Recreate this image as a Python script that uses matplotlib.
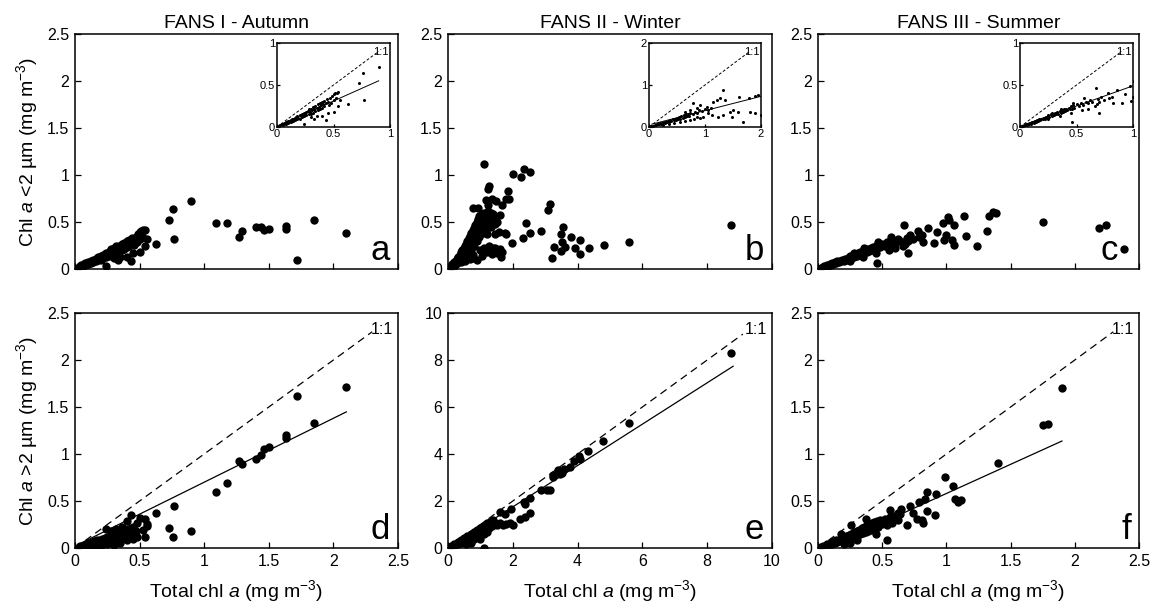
import numpy as np
import matplotlib
matplotlib.use('Agg')
import matplotlib.pyplot as plt
from matplotlib.ticker import FormatStrFormatter, MultipleLocator

plt.rcParams['font.family'] = ['Liberation Sans', 'DejaVu Sans']
plt.rcParams['mathtext.fontset'] = 'custom'
plt.rcParams['mathtext.rm'] = 'Liberation Sans'
plt.rcParams['mathtext.it'] = 'Liberation Sans:italic'

# ---- FANS I (autumn): total chl vs chl <2 um (top) ----
a_x = [0.02, 0.03, 0.04, 0.05, 0.05, 0.06, 0.07, 0.08, 0.08, 0.09, 0.10, 0.10, 0.11, 0.12, 0.12,
       0.13, 0.14, 0.14, 0.15, 0.16, 0.16, 0.17, 0.18, 0.18, 0.19, 0.20, 0.20, 0.21, 0.22, 0.22,
       0.23, 0.24, 0.24, 0.25, 0.26, 0.26, 0.27, 0.28, 0.28, 0.29, 0.30, 0.30, 0.31, 0.32, 0.32,
       0.33, 0.34, 0.34, 0.35, 0.36, 0.36, 0.37, 0.38, 0.38, 0.39, 0.40, 0.40, 0.41, 0.42, 0.42,
       0.43, 0.44, 0.45, 0.46, 0.47, 0.48, 0.49, 0.50, 0.51, 0.52, 0.53, 0.35, 0.33, 0.30,
       0.24, 0.43, 0.40, 0.45, 0.50, 0.54, 0.56, 0.54, 0.50, 0.63, 0.73, 0.76, 0.77, 0.90,
       1.09, 1.18, 1.27, 1.29, 1.40, 1.44, 1.46, 1.50, 1.63, 1.63, 1.72, 1.85, 2.10]
a_y = [0.01, 0.02, 0.03, 0.02, 0.04, 0.03, 0.05, 0.04, 0.06, 0.05, 0.07, 0.05, 0.06, 0.08, 0.06,
       0.09, 0.07, 0.10, 0.09, 0.11, 0.08, 0.12, 0.10, 0.13, 0.11, 0.14, 0.10, 0.13, 0.15, 0.12,
       0.16, 0.13, 0.17, 0.15, 0.18, 0.14, 0.19, 0.16, 0.21, 0.18, 0.22, 0.15, 0.20, 0.24, 0.17,
       0.21, 0.25, 0.19, 0.23, 0.27, 0.20, 0.24, 0.28, 0.21, 0.26, 0.30, 0.23, 0.27, 0.31, 0.25,
       0.28, 0.33, 0.30, 0.26, 0.34, 0.29, 0.37, 0.32, 0.40, 0.35, 0.41, 0.13, 0.10, 0.12,
       0.03, 0.08, 0.13, 0.17, 0.18, 0.25, 0.32, 0.42, 0.39, 0.27, 0.52, 0.64, 0.32, 0.72,
       0.49, 0.49, 0.34, 0.40, 0.45, 0.45, 0.41, 0.43, 0.46, 0.43, 0.10, 0.52, 0.38]

# ---- FANS I: total chl vs chl >2 um (bottom) ----
d_x = [0.03, 0.04, 0.05, 0.06, 0.07, 0.08, 0.09, 0.10, 0.11, 0.12, 0.13, 0.14, 0.15, 0.16, 0.17,
       0.18, 0.19, 0.20, 0.21, 0.22, 0.23, 0.24, 0.25, 0.26, 0.27, 0.28, 0.29, 0.30, 0.31, 0.32,
       0.33, 0.34, 0.35, 0.36, 0.37, 0.38, 0.39, 0.40, 0.41, 0.42, 0.43, 0.44, 0.45, 0.46, 0.47,
       0.48, 0.30, 0.25, 0.35, 0.20, 0.15, 0.40, 0.45, 0.28, 0.32, 0.36, 0.17, 0.24,
       0.40, 0.43, 0.47, 0.48, 0.50, 0.53, 0.54, 0.54, 0.56, 0.56, 0.63, 0.73, 0.76, 0.77, 0.90,
       1.09, 1.18, 1.27, 1.29, 1.40, 1.44, 1.46, 1.50, 1.63, 1.63, 1.72, 1.85, 2.10]
d_y = [0.01, 0.02, 0.01, 0.02, 0.03, 0.02, 0.04, 0.03, 0.05, 0.03, 0.06, 0.04, 0.07, 0.05, 0.08,
       0.05, 0.09, 0.06, 0.10, 0.07, 0.11, 0.07, 0.12, 0.08, 0.13, 0.09, 0.14, 0.09, 0.15, 0.10,
       0.16, 0.11, 0.17, 0.12, 0.18, 0.13, 0.19, 0.14, 0.20, 0.15, 0.21, 0.16, 0.22, 0.13, 0.18,
       0.12, 0.03, 0.04, 0.05, 0.02, 0.01, 0.08, 0.10, 0.18, 0.20, 0.22, 0.01, 0.20,
       0.29, 0.35, 0.13, 0.27, 0.32, 0.19, 0.31, 0.12, 0.26, 0.23, 0.37, 0.21, 0.12, 0.45, 0.18,
       0.60, 0.69, 0.93, 0.89, 0.95, 0.99, 1.05, 1.07, 1.20, 1.17, 1.62, 1.33, 1.71]

# ---- FANS II (winter): top ----
b_x = [0.01, 0.02, 0.03, 0.03, 0.04, 0.05, 0.05, 0.06, 0.06, 0.07, 0.07, 0.08, 0.08, 0.09, 0.09,
       0.10, 0.10, 0.10, 0.11, 0.11, 0.12, 0.12, 0.12, 0.13, 0.13, 0.14, 0.14, 0.14, 0.15, 0.15,
       0.16, 0.16, 0.16, 0.17, 0.17, 0.18, 0.18, 0.18, 0.19, 0.19, 0.20, 0.20, 0.20, 0.21, 0.21,
       0.22, 0.22, 0.22, 0.23, 0.23, 0.24, 0.24, 0.24, 0.25, 0.25, 0.26, 0.26, 0.27, 0.27, 0.28,
       0.28, 0.29, 0.29, 0.30, 0.30, 0.31, 0.31, 0.32, 0.33, 0.33, 0.34, 0.35, 0.36, 0.37, 0.38,
       0.25, 0.28, 0.30, 0.32, 0.34, 0.36, 0.38, 0.40, 0.42, 0.22, 0.26, 0.19, 0.13, 0.17,
       0.19, 0.23, 0.28, 0.32, 0.31, 0.46, 0.45, 0.47, 0.42, 0.37, 0.34, 0.29, 0.31, 0.40,
       0.50, 0.56, 0.59, 0.63, 0.77, 0.79, 0.60, 0.72, 0.63, 0.58, 0.44, 0.45, 0.39, 0.36,
       0.30, 0.49, 0.41, 0.34, 0.35, 0.19, 0.80, 0.82, 0.88, 0.89, 0.87, 0.90, 0.87, 0.95,
       0.98, 1.02, 1.02, 1.09, 1.20, 1.40, 2.18]
b_y = [0.01, 0.03, 0.02, 0.05, 0.04, 0.07, 0.03, 0.09, 0.05, 0.11, 0.06, 0.13, 0.08, 0.15, 0.10,
       0.18, 0.12, 0.07, 0.20, 0.14, 0.22, 0.16, 0.10, 0.25, 0.18, 0.27, 0.20, 0.12, 0.30, 0.23,
       0.33, 0.25, 0.17, 0.35, 0.27, 0.38, 0.30, 0.20, 0.41, 0.33, 0.44, 0.36, 0.25, 0.47, 0.39,
       0.50, 0.42, 0.30, 0.53, 0.45, 0.56, 0.47, 0.34, 0.52, 0.40, 0.58, 0.45, 0.55, 0.38, 0.60,
       0.48, 0.52, 0.42, 0.57, 0.46, 0.62, 0.50, 0.55, 0.60, 0.45, 0.52, 0.58, 0.48, 0.55, 0.50,
       0.20, 0.22, 0.18, 0.25, 0.20, 0.22, 0.17, 0.21, 0.18, 0.10, 0.14, 0.15, 0.08, 0.11,
       0.65, 0.65, 1.12, 0.88, 0.85, 0.83, 0.75, 0.74, 0.68, 0.72, 0.74, 0.73, 0.68, 0.57,
       1.01, 0.98, 1.06, 1.03, 0.63, 0.69, 0.49, 0.40, 0.38, 0.33, 0.38, 0.37, 0.39, 0.37,
       0.37, 0.28, 0.13, 0.16, 0.22, 0.12, 0.12, 0.23, 0.29, 0.45, 0.37, 0.23, 0.19, 0.34,
       0.22, 0.31, 0.16, 0.22, 0.26, 0.29, 0.47]

# FANS II inset (0-2 range)
bi_x = [0.02, 0.04, 0.06, 0.08, 0.10, 0.12, 0.14, 0.16, 0.18, 0.20, 0.22, 0.24, 0.26, 0.28, 0.30,
        0.32, 0.34, 0.36, 0.38, 0.40, 0.42, 0.44, 0.46, 0.48, 0.50, 0.52, 0.54, 0.56, 0.58, 0.60,
        0.62, 0.64, 0.66, 0.68, 0.70, 0.72, 0.74, 0.78, 0.82, 0.86, 0.90, 0.95, 1.00, 1.05, 1.10,
        0.55, 0.65, 0.45, 0.35, 0.25, 0.80, 0.85,
        1.61, 1.79, 1.89, 1.95, 1.32, 1.14, 1.21, 1.27, 1.36, 0.91, 0.86, 1.04, 1.05, 1.13,
        1.23, 1.32, 1.45, 1.50, 1.48, 1.59, 1.68, 1.80, 1.89, 2.00, 0.96, 0.91, 0.73, 0.64,
        0.73, 0.79]
bi_y = [0.01, 0.02, 0.03, 0.03, 0.05, 0.04, 0.06, 0.07, 0.06, 0.09, 0.08, 0.10, 0.12, 0.09, 0.13,
        0.11, 0.15, 0.13, 0.17, 0.14, 0.18, 0.16, 0.20, 0.17, 0.22, 0.19, 0.24, 0.20, 0.26, 0.22,
        0.28, 0.24, 0.30, 0.26, 0.31, 0.27, 0.33, 0.30, 0.36, 0.33, 0.40, 0.37, 0.42, 0.40, 0.45,
        0.12, 0.15, 0.10, 0.08, 0.05, 0.20, 0.25,
        0.71, 0.69, 0.74, 0.76, 0.88, 0.60, 0.64, 0.69, 0.64, 0.52, 0.45, 0.48, 0.33, 0.29,
        0.24, 0.29, 0.36, 0.40, 0.24, 0.36, 0.12, 0.36, 0.33, 0.29, 0.24, 0.21, 0.17, 0.36,
        0.40, 0.57]

# ---- FANS II: bottom ----
e_x = [0.05, 0.10, 0.15, 0.20, 0.25, 0.30, 0.35, 0.40, 0.45, 0.50, 0.55, 0.60, 0.65, 0.70, 0.75,
       0.80, 0.85, 0.90, 0.95, 1.00, 1.05, 1.10, 1.15, 1.20, 1.25, 1.30, 1.35, 1.40, 1.45, 1.50,
       1.60, 1.70, 1.80, 1.90, 0.30, 0.50, 0.70, 0.90, 1.00, 0.60, 0.80, 1.10, 1.20, 0.40,
       0.20, 0.70, 0.55, 1.11,
       1.60, 1.75, 1.94, 2.01, 2.22, 2.37, 2.53, 2.35, 2.39, 2.53, 2.87, 3.07, 3.14, 3.23,
       3.25, 3.40, 3.45, 3.51, 3.59, 3.76, 3.90, 4.05, 4.07, 4.33, 4.79, 5.60, 8.74]
e_y = [0.04, 0.08, 0.10, 0.17, 0.18, 0.26, 0.24, 0.35, 0.30, 0.44, 0.38, 0.52, 0.45, 0.61, 0.50,
       0.70, 0.58, 0.78, 0.62, 0.86, 0.70, 0.95, 0.76, 1.05, 0.85, 1.12, 0.95, 1.20, 1.05, 1.00,
       1.05, 1.00, 1.02, 1.05, 0.15, 0.25, 0.35, 0.50, 0.40, 0.30, 0.40, 0.60, 0.70, 0.20,
       0.10, 0.20, 0.15, 0.00,
       1.53, 1.46, 1.67, 0.96, 1.25, 1.32, 1.49, 1.96, 1.89, 2.13, 2.45, 2.45, 2.45, 3.12,
       3.02, 3.30, 3.13, 3.19, 3.38, 3.45, 3.70, 3.91, 3.80, 4.11, 4.55, 5.32, 8.31]

# ---- FANS III (summer): top ----
c_x = [0.02, 0.03, 0.04, 0.05, 0.06, 0.07, 0.08, 0.09, 0.10, 0.11, 0.12, 0.13, 0.14, 0.15, 0.16,
       0.17, 0.18, 0.19, 0.20, 0.21, 0.22, 0.23, 0.24, 0.25, 0.26, 0.27, 0.28, 0.29, 0.30, 0.31,
       0.32, 0.33, 0.34, 0.35, 0.36, 0.37, 0.38, 0.39, 0.40, 0.41, 0.42, 0.43, 0.44, 0.45, 0.46,
       0.47, 0.48, 0.50, 0.52, 0.54, 0.56, 0.58, 0.60, 0.62, 0.64, 0.66, 0.55, 0.45, 0.35,
       0.25, 0.60, 0.70, 0.68, 0.57, 0.47, 0.36, 0.28,
       0.46, 0.67, 0.70, 0.69, 0.72, 0.74, 0.78, 0.79, 0.81, 0.82, 0.86, 0.90, 0.93, 0.97,
       0.98, 1.00, 1.01, 1.02, 1.04, 1.06, 1.06, 1.14, 1.15, 1.24, 1.32, 1.33, 1.36, 1.39,
       1.75, 2.19, 2.24, 2.38]
c_y = [0.01, 0.01, 0.02, 0.03, 0.02, 0.04, 0.03, 0.05, 0.04, 0.06, 0.05, 0.07, 0.06, 0.08, 0.07,
       0.09, 0.08, 0.10, 0.09, 0.11, 0.10, 0.12, 0.11, 0.14, 0.12, 0.15, 0.13, 0.16, 0.14, 0.17,
       0.15, 0.18, 0.16, 0.19, 0.17, 0.20, 0.18, 0.21, 0.19, 0.22, 0.20, 0.23, 0.21, 0.25, 0.22,
       0.26, 0.23, 0.27, 0.25, 0.29, 0.26, 0.30, 0.28, 0.32, 0.30, 0.25, 0.20, 0.17, 0.13,
       0.09, 0.22, 0.30, 0.27, 0.34, 0.29, 0.22, 0.17,
       0.06, 0.47, 0.17, 0.33, 0.36, 0.32, 0.40, 0.34, 0.36, 0.29, 0.44, 0.28, 0.39, 0.49,
       0.31, 0.36, 0.55, 0.52, 0.31, 0.47, 0.26, 0.56, 0.35, 0.24, 0.40, 0.56, 0.61, 0.60,
       0.50, 0.44, 0.47, 0.21]

# ---- FANS III: bottom ----
f_x = [0.02, 0.04, 0.06, 0.07, 0.08, 0.10, 0.11, 0.12, 0.13, 0.14, 0.15, 0.16, 0.17, 0.18, 0.19,
       0.20, 0.21, 0.22, 0.23, 0.24, 0.25, 0.26, 0.27, 0.28, 0.29, 0.30, 0.31, 0.32, 0.33, 0.34,
       0.35, 0.36, 0.37, 0.38, 0.39, 0.40, 0.41, 0.42, 0.43, 0.44, 0.45, 0.46, 0.47, 0.48, 0.50,
       0.52, 0.54, 0.56, 0.58, 0.60, 0.62, 0.64, 0.25, 0.20, 0.30, 0.45, 0.26, 0.18,
       0.37, 0.54, 0.56, 0.62, 0.65, 0.69, 0.72, 0.74, 0.77, 0.79, 0.81, 0.82, 0.83, 0.85,
       0.85, 0.91, 0.92, 0.99, 1.05, 1.07, 1.09, 1.11, 1.40, 1.75, 1.79, 1.90]
f_y = [0.01, 0.02, 0.02, 0.04, 0.03, 0.05, 0.04, 0.07, 0.05, 0.08, 0.06, 0.09, 0.07, 0.10, 0.08,
       0.12, 0.09, 0.13, 0.10, 0.14, 0.11, 0.15, 0.12, 0.17, 0.13, 0.18, 0.14, 0.19, 0.15, 0.21,
       0.16, 0.22, 0.17, 0.24, 0.18, 0.25, 0.19, 0.27, 0.20, 0.28, 0.21, 0.29, 0.22, 0.30, 0.26,
       0.31, 0.24, 0.33, 0.27, 0.34, 0.30, 0.36, 0.05, 0.04, 0.08, 0.15, 0.25, 0.15,
       0.31, 0.09, 0.40, 0.37, 0.42, 0.25, 0.45, 0.37, 0.31, 0.49, 0.30, 0.27, 0.52, 0.60,
       0.39, 0.35, 0.57, 0.76, 0.66, 0.52, 0.49, 0.51, 0.90, 1.31, 1.32, 1.70]

# regression lines: (slope, intercept, x start, x end)
fit_a_in = (0.60, 0.01, 0.02, 0.90)
fit_b_in = (0.34, 0.05, 0.05, 2.00)
fit_c_in = (0.48, 0.01, 0.02, 1.00)
fit_d = (0.68, 0.02, 0.02, 2.10)
fit_e = (0.88, -0.01, 0.05, 8.80)
fit_f = (0.62, -0.04, 0.05, 1.90)

titles = ['FANS I - Autumn', 'FANS II - Winter', 'FANS III - Summer']
letters = ['a', 'b', 'c', 'd', 'e', 'f']
letter_x = [0.975, 0.975, 0.935, 0.975, 0.975, 0.975]

W, H = 1157, 606
fig = plt.figure(figsize=(W / 100, H / 100), dpi=100)


def px_axes(left, top, right, bottom):
    return fig.add_axes([left / W, 1 - bottom / H, (right - left) / W, (bottom - top) / H])


def style_axes(ax, lim, step, size=11.5, length=4, labels_x=True):
    ax.set_xlim(0, lim)
    ax.set_ylim(0, lim)
    ax.xaxis.set_major_locator(MultipleLocator(step))
    ax.yaxis.set_major_locator(MultipleLocator(step))
    ax.xaxis.set_major_formatter(FormatStrFormatter('%g'))
    ax.yaxis.set_major_formatter(FormatStrFormatter('%g'))
    ax.tick_params(direction='in', length=length, width=0.9, labelsize=size, pad=4,
                   labelbottom=labels_x)
    for sp in ax.spines.values():
        sp.set_linewidth(1.1)


def draw_fit(ax, fit, lim_11, ms_lw=0.9, dash=(6, 4)):
    k, b0, x0, x1 = fit
    xs = np.array([x0, x1])
    ax.plot([0, lim_11], [0, lim_11], color='black', lw=ms_lw, linestyle=(0, dash))
    ax.plot(xs, k * xs + b0, color='black', lw=ms_lw)


cols = [(75, 398), (448, 772), (818, 1139)]
top_row = (34, 269)
bot_row = (313, 548)
insets = [(277, 390), (649, 761), (1020, 1133)]

top_data = [(a_x, a_y), (b_x, b_y), (c_x, c_y)]
bot_data = [(d_x, d_y), (e_x, e_y), (f_x, f_y)]
inset_data = [(a_x, a_y), (bi_x, bi_y), (c_x, c_y)]
inset_lims = [(1, 0.5, fit_a_in), (2, 1, fit_b_in), (1, 0.5, fit_c_in)]
bot_lims = [(2.5, 0.5, fit_d, 2.3), (10, 2, fit_e, 9.1), (2.5, 0.5, fit_f, 2.3)]

ylab_top = 'Chl $\\it{a}$ <2 \u00b5m (mg m$^{-3}$)'
ylab_bot = 'Chl $\\it{a}$ >2 \u00b5m (mg m$^{-3}$)'
xlab = 'Total chl $\\it{a}$ (mg m$^{-3}$)'

for i in range(3):
    l, r = cols[i]
    # top panel
    ax = px_axes(l, top_row[0], r, top_row[1])
    x, y = top_data[i]
    ax.plot(x, y, 'o', color='black', ms=6, mew=0, clip_on=True)
    style_axes(ax, 2.5, 0.5, labels_x=False)
    ax.set_title(titles[i], fontsize=14, pad=4)
    ax.text(letter_x[i], 0.01, letters[i], transform=ax.transAxes, ha='right', va='bottom',
            fontsize=25)
    if i == 0:
        ax.set_ylabel(ylab_top, fontsize=14, labelpad=5)

    # inset
    il, ir = insets[i]
    axi = px_axes(il, 43, ir, 127)
    xi, yi = inset_data[i]
    lim, step, fit = inset_lims[i]
    axi.plot(xi, yi, 'o', color='black', ms=2.2, mew=0)
    draw_fit(axi, fit, 0.9 * lim, ms_lw=0.7, dash=(3, 2))
    style_axes(axi, lim, step, size=8, length=2.5)
    axi.tick_params(pad=1.5)
    axi.text(0.985, 0.83, '1:1', transform=axi.transAxes, ha='right', va='bottom', fontsize=8)

    # bottom panel
    ax = px_axes(l, bot_row[0], r, bot_row[1])
    x, y = bot_data[i]
    lim, step, fit, lim11 = bot_lims[i]
    ax.plot(x, y, 'o', color='black', ms=6, mew=0)
    draw_fit(ax, fit, lim11)
    style_axes(ax, lim, step)
    ax.text(0.985, 0.9, '1:1', transform=ax.transAxes, ha='right', va='bottom', fontsize=11.5)
    ax.text(letter_x[i + 3], 0.01, letters[i + 3], transform=ax.transAxes, ha='right',
            va='bottom', fontsize=25)
    ax.set_xlabel(xlab, fontsize=14, labelpad=7)
    if i == 0:
        ax.set_ylabel(ylab_bot, fontsize=14, labelpad=5)

fig.savefig('out.png', dpi=100)
